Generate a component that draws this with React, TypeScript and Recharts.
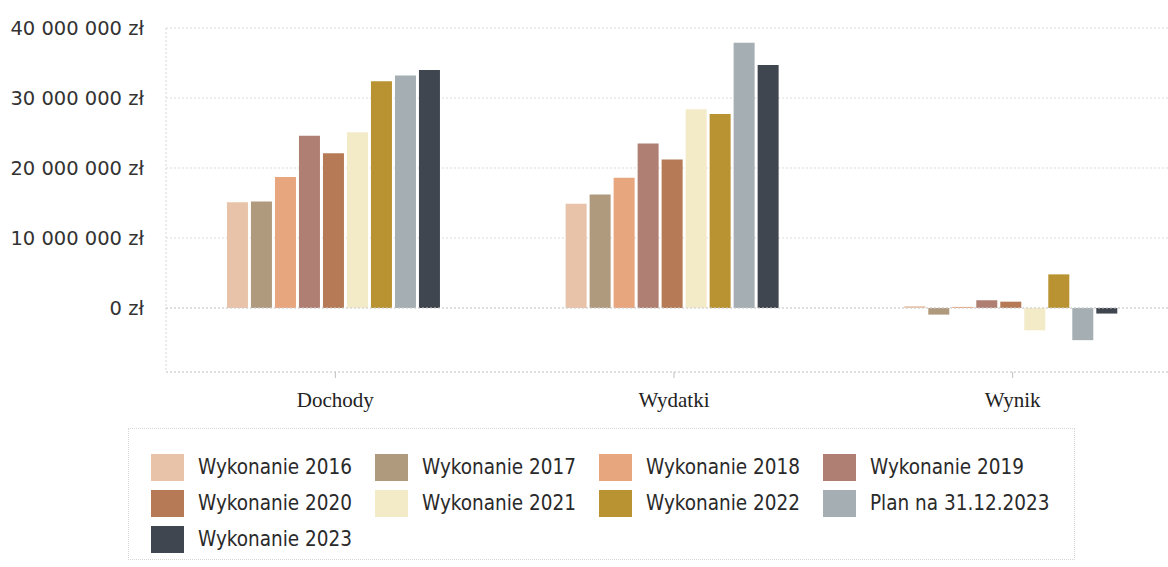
import {
  BarChart,
  Bar,
  XAxis,
  YAxis,
  CartesianGrid,
  Legend,
  ReferenceLine,
} from "recharts";

const categories = ["Dochody", "Wydatki", "Wynik"];

const w2016 = [15100000, 14900000, 250000];
const w2017 = [15200000, 16200000, -950000];
const w2018 = [18700000, 18600000, 150000];
const w2019 = [24600000, 23500000, 1100000];
const w2020 = [22100000, 21200000, 900000];
const w2021 = [25100000, 28400000, -3200000];
const w2022 = [32400000, 27700000, 4800000];
const plan2023 = [33200000, 37900000, -4600000];
const w2023 = [34000000, 34700000, -800000];

const yTicks = [0, 10000000, 20000000, 30000000, 40000000];

const series = [
  { key: "w2016", name: "Wykonanie 2016", values: w2016, color: "#e9c3a9" },
  { key: "w2017", name: "Wykonanie 2017", values: w2017, color: "#b09a7d" },
  { key: "w2018", name: "Wykonanie 2018", values: w2018, color: "#e7a67d" },
  { key: "w2019", name: "Wykonanie 2019", values: w2019, color: "#b07f73" },
  { key: "w2020", name: "Wykonanie 2020", values: w2020, color: "#b67b56" },
  { key: "w2021", name: "Wykonanie 2021", values: w2021, color: "#f3eac8" },
  { key: "w2022", name: "Wykonanie 2022", values: w2022, color: "#b99331" },
  { key: "plan2023", name: "Plan na 31.12.2023", values: plan2023, color: "#a4aeb3" },
  { key: "w2023", name: "Wykonanie 2023", values: w2023, color: "#40464f" },
];

const data = categories.map((cat, i) => {
  const row: Record<string, string | number> = { name: cat };
  series.forEach((s) => {
    row[s.key] = s.values[i];
  });
  return row;
});

const fmtZl = (v: number) =>
  v.toLocaleString("en-US").replace(/,/g, " ") + " zł";

const order = series.map((s) => s.name);

function LegendBox(props: any) {
  const payload = [...(props.payload || [])].sort(
    (a: any, b: any) => order.indexOf(a.value) - order.indexOf(b.value)
  );
  return (
    <div
      style={{
        width: "100%",
        height: "100%",
        boxSizing: "border-box",
        border: "1px dotted #d6d6d6",
        padding: "20px 0 0 22px",
        display: "grid",
        gridTemplateColumns: "224px 224px 224px 224px",
        gridAutoRows: "36px",
        fontFamily: "'DejaVu Sans Condensed', 'DejaVu Sans', sans-serif",
        fontSize: 20.5,
        color: "#2a2a2a",
      }}
    >
      {payload.map((p: any) => (
        <div
          key={p.value}
          style={{ display: "flex", alignItems: "center", whiteSpace: "nowrap" }}
        >
          <span
            style={{
              display: "inline-block",
              flex: "0 0 33px",
              width: 33,
              height: 27,
              background: p.color,
              marginRight: 14,
            }}
          />
          <span>{p.value}</span>
        </div>
      ))}
    </div>
  );
}

export default function App() {
  return (
    <div
      style={{
        position: "absolute",
        left: 0,
        top: 0,
        width: 1168,
        height: 567,
        overflow: "hidden",
        background: "#fff",
      }}
    >
      <BarChart
        width={1190}
        height={567}
        data={data}
        margin={{ top: 28, right: 8, left: 0, bottom: 135 }}
        barGap={3}
        barCategoryGap="18%"
      >
        <CartesianGrid
          vertical={false}
          stroke="#dcdcdc"
          strokeDasharray="2 2"
        />
        <XAxis
          dataKey="name"
          axisLine={{ stroke: "#cfcfcf", strokeDasharray: "2 2" }}
          tickLine={{ stroke: "#bdbdbd" }}
          tickSize={6}
          tickMargin={14}
          height={60}
          tick={{
            fill: "#222",
            fontSize: 21,
            fontFamily: "'Liberation Serif', 'Times New Roman', serif",
          }}
        />
        <YAxis
          width={166}
          domain={[-9150000, 40000000]}
          ticks={yTicks}
          allowDataOverflow
          axisLine={{ stroke: "#d6d6d6", strokeDasharray: "2 2" }}
          tickLine={false}
          tickSize={0}
          tickMargin={22}
          tickFormatter={(v) => fmtZl(Number(v))}
          tick={{
            fill: "#333",
            fontSize: 19.5,
            fontFamily: "'DejaVu Sans', Verdana, sans-serif",
          }}
        />
        <ReferenceLine y={0} stroke="#d0d0d0" strokeDasharray="2 2" />
        {series.map((s) => (
          <Bar
            key={s.key}
            dataKey={s.key}
            name={s.name}
            fill={s.color}
            isAnimationActive={false}
          />
        ))}
        <Legend
          layout="horizontal"
          verticalAlign="middle"
          align="center"
          content={LegendBox}
          wrapperStyle={{ left: 128, top: 428, width: 947, height: 132 }}
        />
      </BarChart>
    </div>
  );
}
